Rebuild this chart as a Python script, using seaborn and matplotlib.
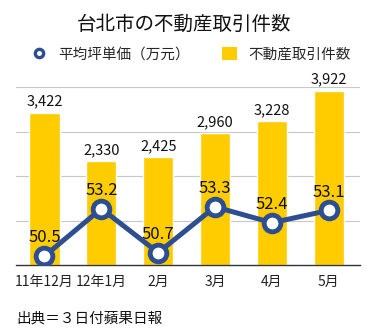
import matplotlib
matplotlib.use("Agg")
import matplotlib.pyplot as plt
import seaborn as sns
import pandas as pd

categories = ["11年12月", "12年1月", "2月", "3月", "4月", "5月"]
transactions = [3422, 2330, 2425, 2960, 3228, 3922]
avg_price = [50.5, 53.2, 50.7, 53.3, 52.4, 53.1]

sns.set_theme(style="white")
plt.rcParams["font.family"] = ["Noto Sans CJK JP", "DejaVu Sans"]

df = pd.DataFrame({"month": categories, "count": transactions, "price": avg_price})
df["pos"] = range(len(df))

BAR = "#FFCC00"
LINE = "#2D4F91"

fig = plt.figure(figsize=(3.68, 3.30), dpi=100)
ax = fig.add_axes([0.0435, 0.197, 0.935, 0.539])

sns.barplot(data=df, x="month", y="count", color=BAR, width=0.53,
            saturation=1, ax=ax, zorder=2)
ax.set_ylim(0, 4000)
ax.set_xlim(-0.5, 5.55)
ax.set_yticks([1000, 2000, 3000, 4000])
ax.yaxis.grid(True, color="#C8C8C8", linewidth=0.8)
ax.set_axisbelow(True)
ax.set_yticklabels([])
ax.tick_params(axis="y", length=0)
ax.tick_params(axis="x", length=0, labelsize=10, pad=7, colors="#222222")
ax.set_xlabel("")
ax.set_ylabel("")
for s in ["top", "left", "right"]:
    ax.spines[s].set_visible(False)
ax.spines["bottom"].set_color("#333333")
ax.spines["bottom"].set_linewidth(1.0)

for i, v in enumerate(transactions):
    ax.annotate(f"{v:,}", (i, v), xytext=(0, 3), textcoords="offset points",
                ha="center", va="bottom", fontsize=10.5, color="#111111",
                annotation_clip=False)

ax2 = ax.twinx()
sns.lineplot(data=df, x="pos", y="price", color=LINE, linewidth=3.6,
             marker="o", markersize=12, markerfacecolor="white",
             markeredgecolor=LINE, markeredgewidth=3.5, ax=ax2, zorder=5)
ax2.set_ylim(50, 60.1)
ax2.set_yticks([])
ax2.set_ylabel("")
ax2.set_xlabel("")
for s in ["top", "left", "right", "bottom"]:
    ax2.spines[s].set_visible(False)
ax2.set_xlim(-0.5, 5.55)

for i, v in enumerate(avg_price):
    ax2.annotate(f"{v}", (i, v), xytext=(0, 7), textcoords="offset points",
                 ha="center", va="bottom", fontsize=12, color="#111111")

fig.text(0.5, 0.925, "台北市の不動産取引件数", ha="center", va="center",
         fontsize=14, color="#111111")

from matplotlib.lines import Line2D
from matplotlib.patches import Patch
handles = [
    Line2D([0], [0], color=LINE, marker="o", linestyle="none", markersize=6,
           markerfacecolor="white", markeredgecolor=LINE, markeredgewidth=2.4),
    Patch(facecolor=BAR, edgecolor="none"),
]
fig.legend(handles, ["平均坪単価（万元）", "不動産取引件数"], loc="center",
           bbox_to_anchor=(0.52, 0.835), ncol=2, frameon=False, fontsize=10.5,
           handlelength=1.0, handleheight=1.0, handletextpad=0.8, columnspacing=2.2)

fig.text(0.045, 0.035, "出典＝３日付蘋果日報", ha="left", va="center",
         fontsize=10.5, color="#111111")

fig.savefig("out.png", dpi=100)
